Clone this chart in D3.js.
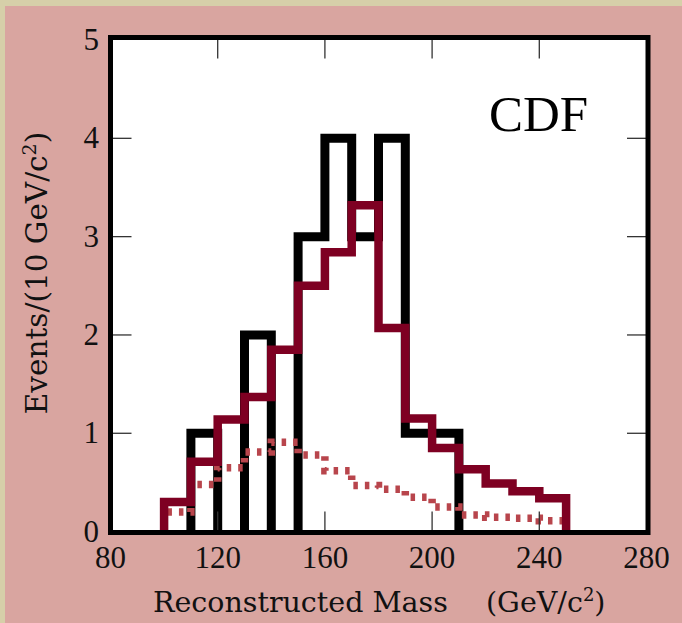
<!DOCTYPE html>
<html>
<head>
<meta charset="utf-8">
<script src="https://cdn.jsdelivr.net/npm/d3@7"></script>
<style>
  html, body { margin: 0; padding: 0; background: #d9a5a0; }
  svg { display: block; }
</style>
</head>
<body>
<svg id="chart"></svg>
<script>
// bin edges are 10 GeV wide
var dataLow = [110, 120, 130, 140, 150, 160, 170, 180, 190, 200];
var dataCounts = [1, 0, 2, 0, 3, 4, 3, 4, 1, 1];

var fitLow = [100, 110, 120, 130, 140, 150, 160, 170, 180, 190, 200, 210, 220, 230, 240];
var fitValues = [0.30, 0.71, 1.14, 1.37, 1.85, 2.50, 2.84, 3.32, 2.07, 1.15, 0.85, 0.635, 0.49, 0.41, 0.34];
var bkgValues = [0.20, 0.48, 0.65, 0.81, 0.91, 0.78, 0.62, 0.47, 0.43, 0.35, 0.25, 0.17, 0.145, 0.135, 0.11];

var xTicks = [80, 120, 160, 200, 240, 280];
var yTicks = [0, 1, 2, 3, 4, 5];

var W = 682, H = 623, binW = 10;

var svg = d3.select("#chart").attr("width", W).attr("height", H);

// page background + beige edge
svg.append("rect").attr("width", W).attr("height", H).attr("fill", "#d9a5a0");
svg.append("rect").attr("width", 5).attr("height", H).attr("fill", "#d6cfa9");
svg.append("rect").attr("width", W).attr("height", 6).attr("fill", "#d6cfa9");

var x = d3.scaleLinear().domain([80, 280]).range([110.5, 646.5]);
var y = d3.scaleLinear().domain([0, 5]).range([531.6, 40]);

var box = {l: 110.5, r: 648, t: 37.5, b: 532.5};

svg.append("rect")
  .attr("x", box.l).attr("y", box.t)
  .attr("width", box.r - box.l).attr("height", box.b - box.t)
  .attr("fill", "#fff");

// step outline; empty bins break the path so nothing runs along the axis
function steps(lows, vals) {
  var pts = [[lows[0], 0]];
  lows.forEach(function(lo, i) {
    if (vals[i] === 0) {
      pts.push([lo, 0], null, [lo + binW, 0]);
    } else {
      pts.push([lo, vals[i]], [lo + binW, vals[i]]);
    }
  });
  pts.push([lows[lows.length - 1] + binW, 0]);
  return pts;
}
var line = d3.line()
  .defined(function(d) { return d !== null; })
  .x(function(d) { return x(d[0]); })
  .y(function(d) { return y(d[1]); });

svg.append("path")
  .attr("d", line(steps(dataLow, dataCounts)))
  .attr("fill", "none").attr("stroke", "#000").attr("stroke-width", 9)
  .attr("stroke-linejoin", "miter");

svg.append("path")
  .attr("d", line(steps(fitLow, bkgValues)))
  .attr("fill", "none").attr("stroke", "#b8454c").attr("stroke-width", 7.5)
  .attr("stroke-dasharray", "4.5 7");

svg.append("path")
  .attr("d", line(steps(fitLow, fitValues)))
  .attr("fill", "none").attr("stroke", "#7e0022").attr("stroke-width", 8.5)
  .attr("stroke-linejoin", "miter");

// inward ticks on all four sides
var tickLen = 21;
var g = svg.append("g").attr("stroke", "#333").attr("stroke-width", 1.3);
xTicks.slice(1, -1).forEach(function(v) {
  g.append("line").attr("x1", x(v)).attr("x2", x(v)).attr("y1", box.b).attr("y2", box.b - tickLen);
  g.append("line").attr("x1", x(v)).attr("x2", x(v)).attr("y1", box.t).attr("y2", box.t + tickLen);
});
yTicks.slice(1, -1).forEach(function(v) {
  g.append("line").attr("x1", box.l).attr("x2", box.l + tickLen).attr("y1", y(v)).attr("y2", y(v));
  g.append("line").attr("x1", box.r).attr("x2", box.r - tickLen).attr("y1", y(v)).attr("y2", y(v));
});

svg.append("rect")
  .attr("x", box.l).attr("y", box.t)
  .attr("width", box.r - box.l).attr("height", box.b - box.t)
  .attr("fill", "none").attr("stroke", "#000").attr("stroke-width", 5);

var font = "'DejaVu Serif', serif";
var tickFont = "'Liberation Serif', serif";

svg.selectAll(".xlab").data(xTicks).enter().append("text")
  .attr("class", "xlab")
  .attr("x", function(d) { return x(d); }).attr("y", 568)
  .attr("text-anchor", "middle")
  .attr("font-family", tickFont).attr("font-size", 31).attr("fill", "#111")
  .text(function(d) { return d; });

svg.selectAll(".ylab").data(yTicks).enter().append("text")
  .attr("class", "ylab")
  .attr("x", 99).attr("y", function(d) { return y(d) + 10; })
  .attr("text-anchor", "end")
  .attr("font-family", tickFont).attr("font-size", 31).attr("fill", "#111")
  .text(function(d) { return d; });

svg.append("text").attr("x", 153).attr("y", 612)
  .attr("font-family", font).attr("font-size", 28.5).attr("fill", "#111")
  .text("Reconstructed Mass");

var unit = svg.append("text").attr("x", 486).attr("y", 612)
  .attr("font-family", font).attr("font-size", 28.5).attr("fill", "#111");
unit.append("tspan").text("(GeV/c");
unit.append("tspan").attr("dy", -11).attr("font-size", 18).text("2");
unit.append("tspan").attr("dy", 11).text(")");

var ytitle = svg.append("text")
  .attr("transform", "translate(47,273) rotate(-90)")
  .attr("text-anchor", "middle")
  .attr("font-family", font).attr("font-size", 29.5).attr("fill", "#111");
ytitle.append("tspan").text("Events/(10 GeV/c");
ytitle.append("tspan").attr("dy", -11).attr("font-size", 19).text("2");
ytitle.append("tspan").attr("dy", 11).text(")");

svg.append("text").attr("x", 489).attr("y", 131)
  .attr("font-family", "'Liberation Serif', serif").attr("font-size", 51).attr("fill", "#000")
  .text("CDF");
</script>
</body>
</html>
